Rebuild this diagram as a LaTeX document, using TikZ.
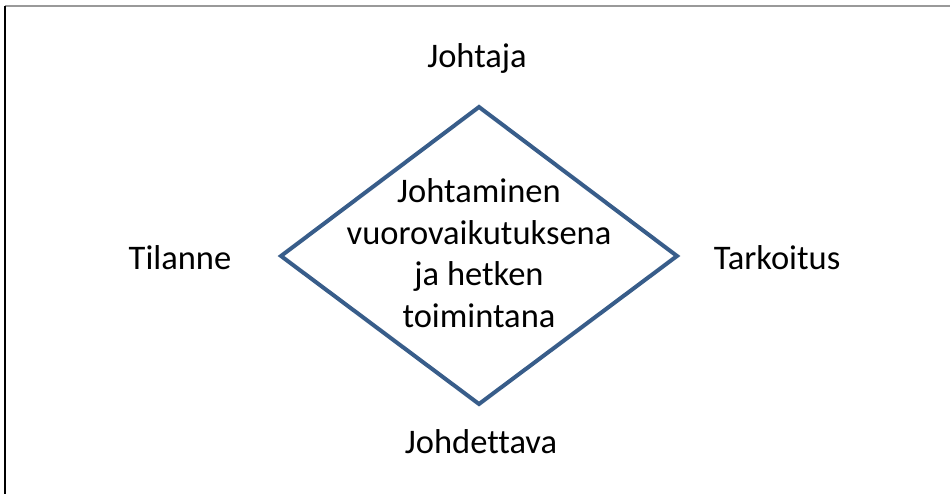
\documentclass[tikz,border=0pt]{standalone}
\usepackage{fontspec}
\setmainfont[Ligatures=NoCommon]{Carlito}
\definecolor{diamondblue}{HTML}{385D8A}
\begin{document}
\begin{tikzpicture}[x=1pt,y=-1pt,
  label text/.style={font=\fontsize{34.5}{41.5}\selectfont, inner sep=0pt, anchor=center},
  centre text/.style={font=\fontsize{34.5}{41.5}\selectfont, align=center, inner sep=0pt, anchor=center}]
  \useasboundingbox (0,0) rectangle (950,494);
  % page frame (top and left edges)
  \draw[line width=1.5pt, gray!80] (5,6) -- (950,6);
  \draw[line width=2pt, black] (5,6) -- (5,494);
  % diamond corners
  \coordinate (top) at (479,107);
  \coordinate (left) at (281,256);
  \coordinate (right) at (677,256);
  \coordinate (bottom) at (479,404);
  \draw[diamondblue, line width=4pt, line join=miter] (top) -- (right) -- (bottom) -- (left) -- cycle;
  \node[centre text] (mid) at (479,253) {Johtaminen\\vuorovaikutuksena\\ja hetken\\toimintana};
  \node[label text] (leader) at (477,58) {Johtaja};
  \node[label text] (situation) at (180,258) {Tilanne};
  \node[label text] (purpose) at (777,258) {Tarkoitus};
  \node[label text] (follower) at (481,442) {Johdettava};
\end{tikzpicture}
\end{document}
